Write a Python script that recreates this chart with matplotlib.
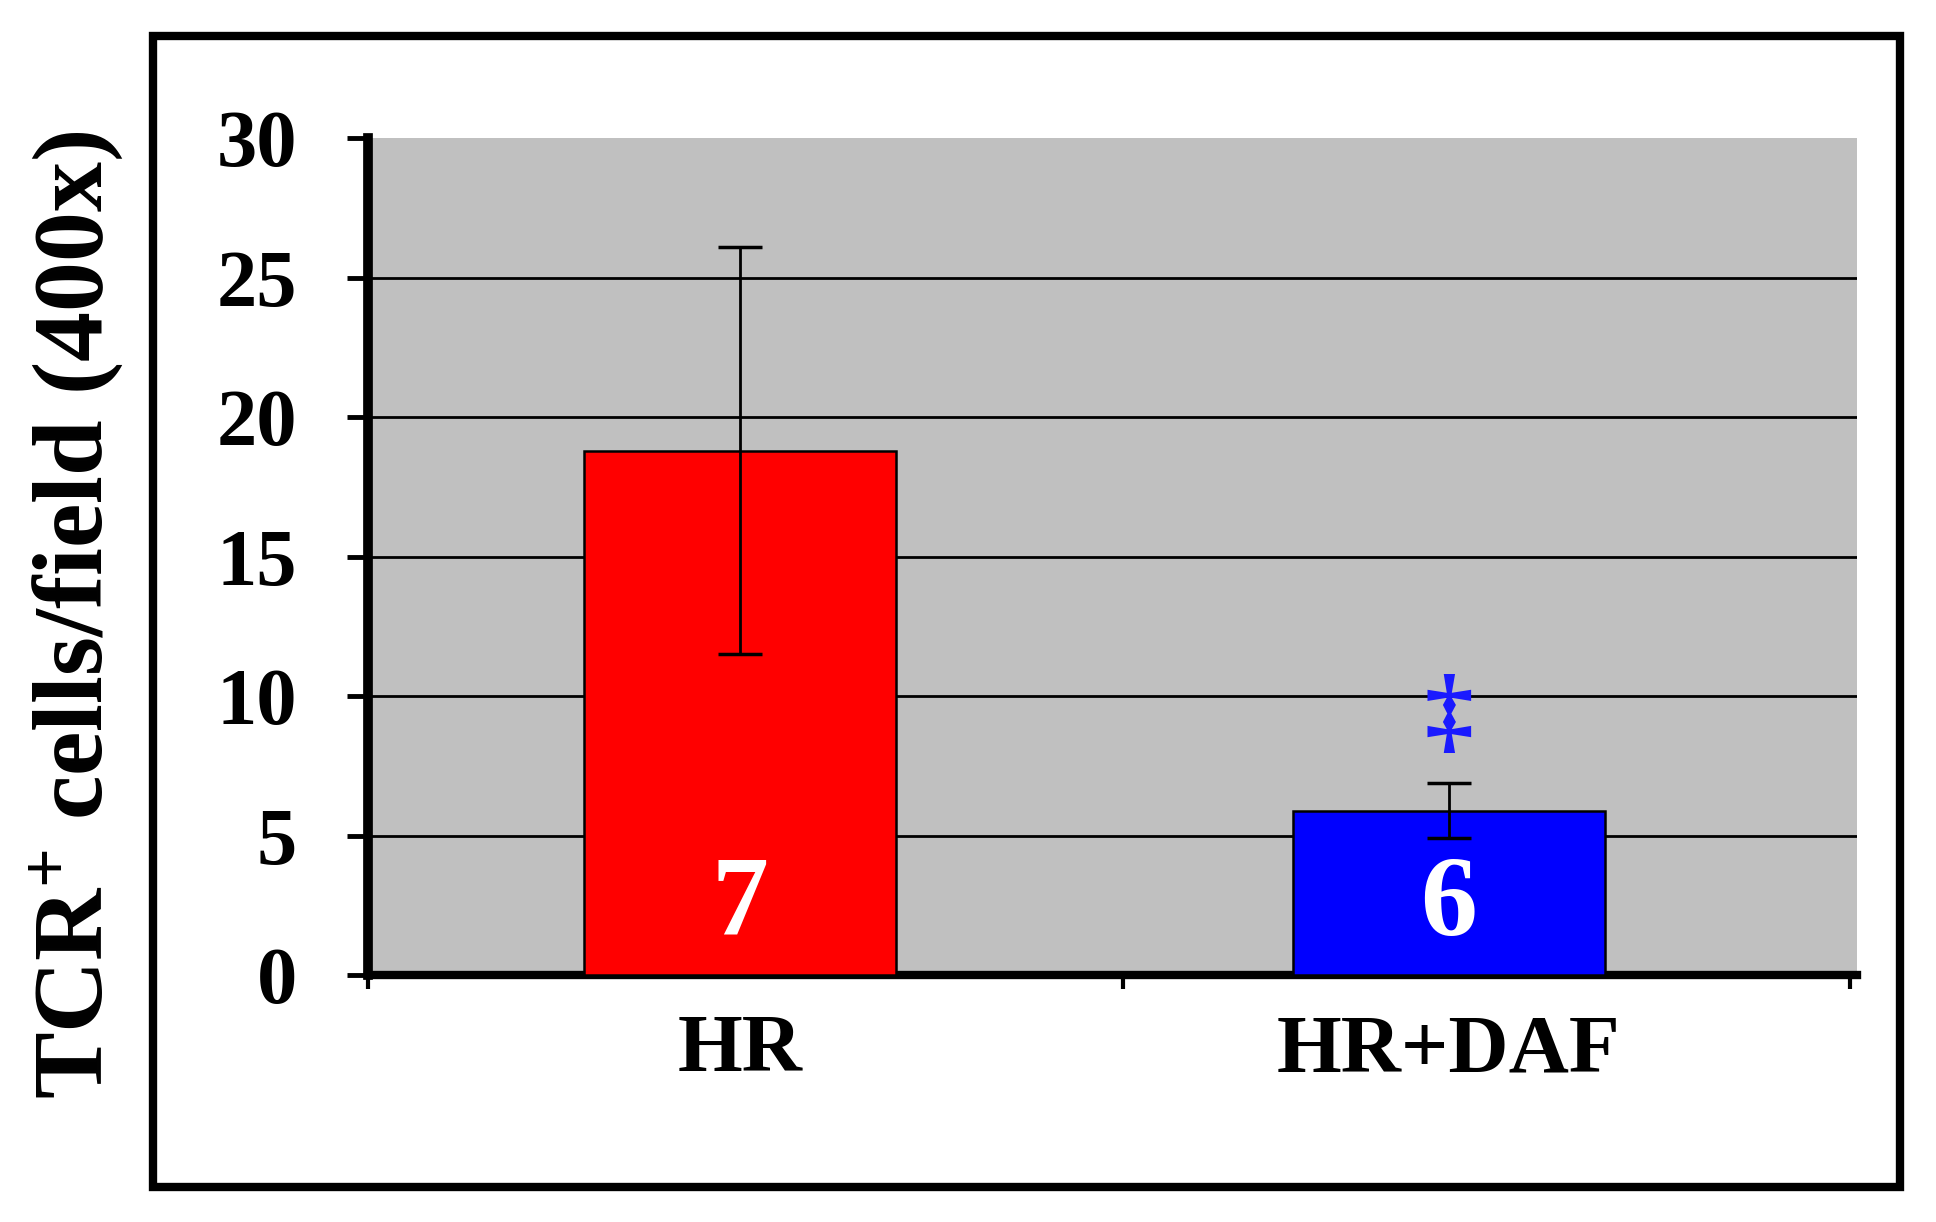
import os
import matplotlib.pyplot as plt
import matplotlib.patches as patches
from matplotlib.font_manager import FontProperties
import numpy as np

# Data
groups = ['HR', 'HR+DAF']
means = [18.8, 5.9]
errors = [7.3, 1.0]
n_labels = ['7', '6']
bar_colors = ['#FF0000', '#0000FF']

bold_path = '/usr/share/fonts/truetype/liberation/LiberationSerif-Bold.ttf'
if os.path.exists(bold_path):
    def fp(size):
        return FontProperties(fname=bold_path, size=size)
else:
    def fp(size):
        return FontProperties(family='serif', weight='bold', size=size)

plt.rcParams['mathtext.fontset'] = 'custom'
plt.rcParams['mathtext.rm'] = 'Liberation Serif:bold'
plt.rcParams['mathtext.bf'] = 'Liberation Serif:bold'
plt.rcParams['mathtext.default'] = 'bf'

fig = plt.figure(figsize=(19.36, 12.22), dpi=100)
ax = fig.add_axes([0.190, 0.202, 0.769, 0.685])

x = np.arange(len(groups))
ax.set_facecolor('#C0C0C0')
ax.bar(x, means, width=0.44, color=bar_colors, edgecolor='black', linewidth=1.8, zorder=3)
ax.errorbar(x, means, yerr=errors, fmt='none', ecolor='black', elinewidth=2,
            capsize=16, capthick=2.5, zorder=4)

for xi, lab in zip(x, n_labels):
    ax.text(xi, 2.45, lab, color='white', fontproperties=fp(82),
            ha='center', va='center', zorder=5)

# significance marker
ax.text(x[1], 9.2, '\u2021', color='#1a1aff', fontproperties=fp(70),
        ha='center', va='center', zorder=5)

ax.set_ylim(0, 30)
ax.set_xlim(-0.525, 1.575)
ax.set_yticks(np.arange(0, 31, 5))
ax.yaxis.grid(True, color='black', linewidth=2)
ax.set_axisbelow(True)

ax.set_xticks(x)
ax.set_xticklabels(groups)
ax.set_xticks([-0.525, 0.54, 1.565], minor=True)
ax.tick_params(axis='x', which='major', length=0, pad=28)
ax.tick_params(axis='x', which='minor', length=10, width=3, direction='out')
ax.tick_params(axis='y', length=15, width=3.5, direction='out', pad=36)
for t in ax.get_xticklabels():
    t.set_fontproperties(fp(60))
for t in ax.get_yticklabels():
    t.set_fontproperties(fp(58))

ax.spines['top'].set_visible(False)
ax.spines['right'].set_visible(False)
ax.spines['left'].set_linewidth(7)
ax.spines['bottom'].set_linewidth(6)

fig.text(0.040, 0.497, 'TCR$^{+}$ cells/field (400x)', rotation=90,
         ha='center', va='center', fontproperties=fp(72))

# outer frame
frame = patches.Rectangle((153 / 1936, 1 - 1187 / 1222), (1900 - 153) / 1936, (1187 - 36) / 1222,
                          transform=fig.transFigure, fill=False, edgecolor='black', linewidth=6)
fig.patches.append(frame)

fig.canvas.draw()
# the reference has no gridline along the top edge
ax.get_ygridlines()[-1].set_visible(False)

fig.savefig('out.png', dpi=100, facecolor='white')
